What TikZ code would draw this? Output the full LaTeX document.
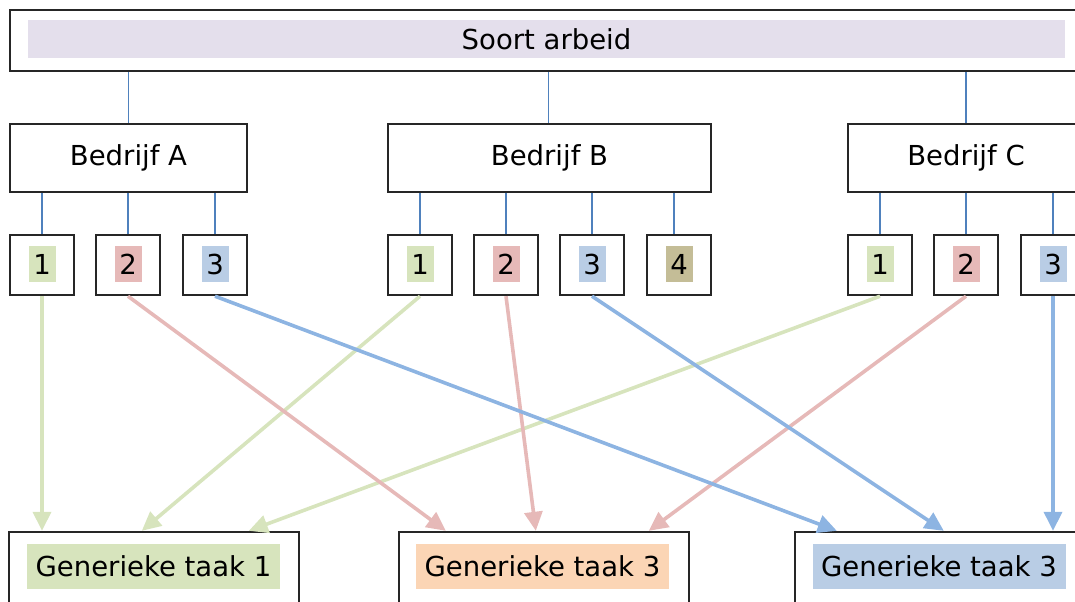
\documentclass[tikz,border=0pt]{standalone}
\usepackage{fontspec}
\setmainfont{DejaVu Sans}
\usepackage{tikz}
\usetikzlibrary{positioning, arrows.meta}
\definecolor{lavender}{HTML}{E4DFEC}
\definecolor{lgreen}{HTML}{D7E4BD}
\definecolor{lred}{HTML}{E6B9B8}
\definecolor{lblue}{HTML}{B9CDE5}
\definecolor{lbrown}{HTML}{C4BD97}
\definecolor{lorange}{HTML}{FBD5B5}
\definecolor{ablue}{HTML}{8DB4E2}
\definecolor{linkblue}{HTML}{4F81BD}
\tikzstyle{box} = [rectangle,
inner sep=0pt,
draw=black!85,
line width=1.2pt]
\tikzstyle{company} = [box,
minimum height=34pt]
\tikzstyle{digit} = [box,
minimum width=32pt,
minimum height=30pt]
\tikzstyle{tag} = [rectangle,
inner sep=0pt,
minimum width=13.5pt,
minimum height=18pt]
\tikzstyle{task} = [box,
minimum width=145pt,
minimum height=37pt]
\tikzstyle{tasktag} = [rectangle,
inner sep=0pt,
minimum width=126.5pt,
minimum height=22.5pt]
\tikzstyle{link} = [draw=linkblue, line width=0.9pt]
\tikzstyle{arrow} = [line width=1.8pt, -{Triangle[length=9.5pt,width=9pt]}]

\begin{document}
\begin{tikzpicture}[x=0.5pt, y=-0.5pt, font=\fontsize{13.75}{16}\selectfont]
        \useasboundingbox (0,0) rectangle (1075,601);
        \clip (0,0) rectangle (1075,601);

        \node (top) [box, minimum width=537.5pt, minimum height=30.5pt] at (547.5,40.5) {};
        \node (toptag) [rectangle, fill=lavender, minimum width=518.5pt, minimum height=19pt] at (546.5,39) {Soort arbeid};

        \node (bA) [company, minimum width=118.5pt] at (128.5,158) {Bedrijf A};
        \node (bB) [company, minimum width=161.5pt] at (549.5,158) {Bedrijf B};
        \node (bC) [company, minimum width=118pt] at (966,158) {Bedrijf C};

        \foreach \n/\x/\c/\d in {a1/42/lgreen/1, a2/128/lred/2, a3/215/lblue/3,
                b1/420/lgreen/1, b2/506/lred/2, b3/592/lblue/3, b4/679/lbrown/4,
                c1/880/lgreen/1, c2/966/lred/2, c3/1053/lblue/3} {
            \node (\n) [digit] at (\x,265) {};
            \node (\n t) [tag, fill=\c] at (\x,264) {\d};
        }

        \node (g1) [task] at (154,569) {};
        \node (g2) [task] at (544,569) {};
        \node (g3) [task] at (940,569) {};
        \node (g1t) [tasktag, fill=lgreen] at (153.5,566.5) {Generieke taak 1};
        \node (g2t) [tasktag, fill=lorange] at (542.5,566.5) {Generieke taak 3};
        \node (g3t) [tasktag, fill=lblue] at (939,566.5) {Generieke taak 3};

        \draw [link] (bA.north) -- (bA.north |- top.south);
        \draw [link] ([xshift=-0.5pt]bB.north) -- ([xshift=-0.5pt]bB.north |- top.south);
        \draw [link] (bC.north) -- (bC.north |- top.south);
        \foreach \n/\p in {a1/bA, a2/bA, a3/bA, b1/bB, b2/bB, b3/bB, c1/bC, c2/bC, c3/bC}
            \draw [link] (\n.north) -- (\n.north |- \p.south);
        \draw [link] ([xshift=-2.5pt]b4.north) -- ([xshift=-2.5pt]b4.north |- bB.south);

        % green
        \draw [arrow, lgreen] (a1.south) -- (a1.south |- g1.north);
        \draw [arrow, lgreen] (b1.south) -- ([xshift=67pt]g1.north west);
        \draw [arrow, lgreen] (c1.south) -- ([xshift=120.5pt]g1.north west);
        % red
        \draw [arrow, lred] (a2.south) -- ([xshift=24pt]g2.north west);
        \draw [arrow, lred] (b2.south) -- ([xshift=69pt]g2.north west);
        \draw [arrow, lred] (c2.south) -- ([xshift=125.5pt]g2.north west);
        % blue
        \draw [arrow, ablue] (a3.south) -- ([xshift=21.5pt]g3.north west);
        \draw [arrow, ablue] (b3.south) -- ([xshift=75pt]g3.north west);
        \draw [arrow, ablue] (c3.south) -- (c3.south |- g3.north);
    \end{tikzpicture}
\end{document}
